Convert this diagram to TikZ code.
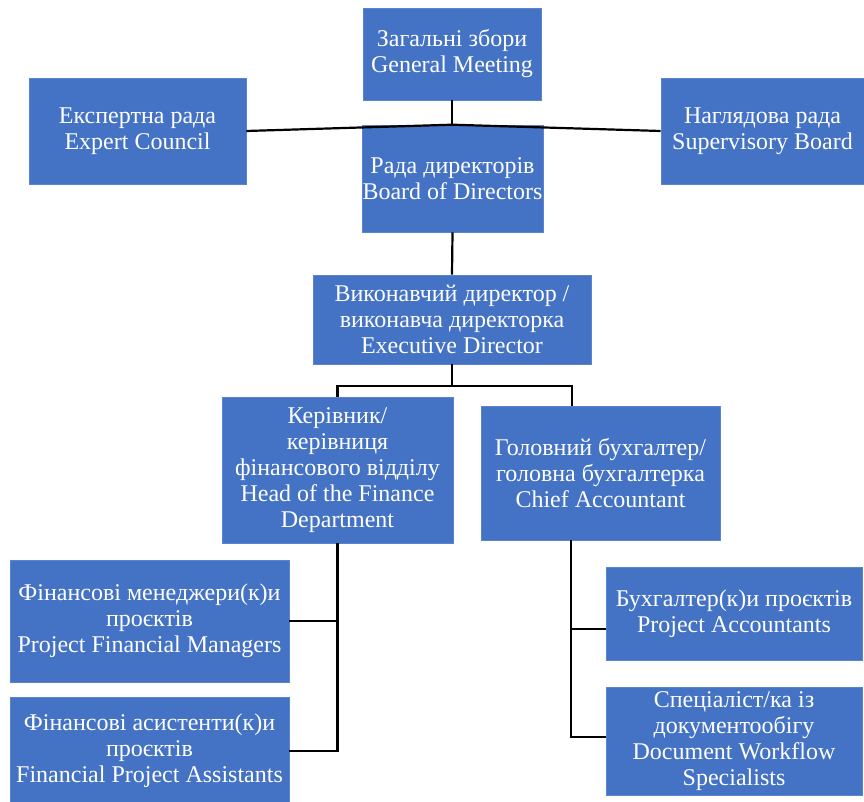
\documentclass[tikz,border=0pt]{standalone}
\usepackage{fontspec}
\setmainfont{Liberation Serif}
\usetikzlibrary{calc}
\definecolor{boxblue}{HTML}{4472C4}
\definecolor{boxedge}{HTML}{5A84CE}
\begin{document}
\begin{tikzpicture}[x=1pt,y=-1pt,
  orgbox/.style={rectangle, fill=boxblue, draw=boxedge, line width=0.6pt, text=white,
    font=\fontsize{24}{26}\selectfont, align=center, inner sep=0pt},
  link/.style={draw=black, line width=2.2pt}]
\fill[white] (0,0) rectangle (864,802);
\useasboundingbox (0,0) rectangle (864,802);

\node[orgbox, minimum width=178pt, minimum height=92pt] (gm) at (452,54) {Загальні збори\\General Meeting};
\node[orgbox, minimum width=217pt, minimum height=106pt] (ec) at (137.5,131) {Експертна рада\\Expert Council};
\node[orgbox, minimum width=203pt, minimum height=106pt] (sb) at (762.5,131) {Наглядова рада\\Supervisory Board};
\node[orgbox, minimum width=181pt, minimum height=107pt] (bod) at (452.5,178.5) {Рада директорів\\Board of Directors};
\node[orgbox, minimum width=278pt, minimum height=89pt] (ed) at (452,319.5) {Виконавчий директор /\\виконавча директорка\\Executive Director};
\node[orgbox, minimum width=231pt, minimum height=146pt] (hof) at (337.5,470) {Керівник/\\керівниця\\фінансового відділу\\Head of the Finance\\Department};
\node[orgbox, minimum width=239pt, minimum height=134pt] (ca) at (600.5,473) {Головний бухгалтер/\\головна бухгалтерка\\Chief Accountant};
\node[orgbox, minimum width=279pt, minimum height=122pt] (pfm) at (149.5,621) {Фінансові менеджери(к)и\\проєктів\\Project Financial Managers};
\node[orgbox, minimum width=279pt, minimum height=108pt] (fpa) at (149.5,751) {Фінансові асистенти(к)и\\проєктів\\Financial Project Assistants};
\node[orgbox, minimum width=256pt, minimum height=93pt] (pa) at (734,613.5) {Бухгалтер(к)и проєктів\\Project Accountants};
\node[orgbox, minimum width=256pt, minimum height=108pt] (dws) at (734,741) {Спеціаліст/ка із\\документообігу\\Document Workflow\\Specialists};

% top connectors
\coordinate (j1) at (gm.south |- bod.north);
\draw[link] (gm.south) -- (j1);
\draw[link] (ec.east) -- (j1) -- (sb.west);
\draw[link] (bod.south) -- (ed.north);

% executive to departments
\coordinate (j2) at ($(ed.south)+(0,22)$);
\coordinate (cadrop) at ($(ca.north west)+(91,0)$);
\draw[link] (ed.south) -- (j2);
\draw[link] (hof.north) |- (j2) -| (cadrop);

% finance department
\draw[link] (hof.south) |- (fpa.east);
\draw[link] (pfm.east) -- (pfm.east -| hof.south);

% chief accountant
\coordinate (cabot) at ($(ca.south west)+(90,0)$);
\draw[link] (cabot) |- ([yshift=-15.5pt]pa.west);
\draw[link] (cabot) |- ([yshift=4pt]dws.west);
\end{tikzpicture}
\end{document}
